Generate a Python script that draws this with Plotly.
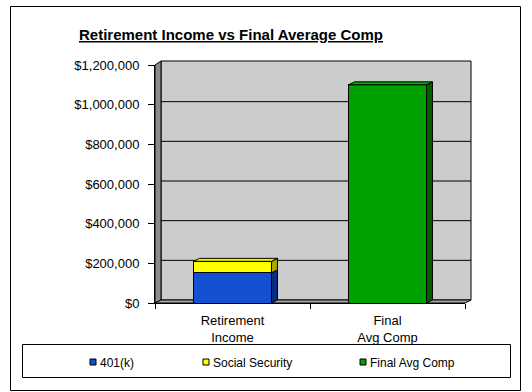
import plotly.graph_objects as go

categories = ["Retirement<br>Income", "Final<br>Avg Comp"]
k401 = [152000, 0]
social_security = [58000, 0]
final_avg_comp = [0, 1100000]
y_ticks = [0, 200000, 400000, 600000, 800000, 1000000, 1200000]
y_tick_text = ["$0", "$200,000", "$400,000", "$600,000", "$800,000", "$1,000,000", "$1,200,000"]

W, H = 532, 392
L, R, T, B = 155, 67, 65, 89
PW, PH = W - L - R, H - T - B
YMAX = 1200000
BAR_W = 0.503
DX, DY = 6, 3  # 3D depth offsets in px
FONT = "Liberation Sans, Arial"

def px(x):
    return (x - L) / PW

def py(y):
    return (H - B - y) / PH

dx = DX / (PW / 2.0)      # data units along categorical x (range -0.5..1.5)
dy = DY * YMAX / PH       # data units along y

colors = {"401(k)": ("#1450D2", "#0A2C80", "#2A62E0"),
          "Social Security": ("#FFFF00", "#A8A800", "#F0F000"),
          "Final Avg Comp": ("#00A000", "#006000", "#00B000")}

fig = go.Figure()
series = [("401(k)", k401), ("Social Security", social_security), ("Final Avg Comp", final_avg_comp)]
for name, vals in series:
    fig.add_trace(go.Bar(x=categories, y=vals, name=name, width=BAR_W,
                         marker=dict(color=colors[name][0], line=dict(color="black", width=1)),
                         showlegend=False, hovertemplate=name + ": %{y:$,}<extra></extra>"))

shapes = []
# back wall
shapes.append(dict(type="rect", xref="paper", yref="paper",
                   x0=px(L + DX), x1=px(L + PW + DX), y0=py(H - B - DY), y1=py(T - DY - 1),
                   line=dict(color="black", width=1), fillcolor="#CCCCCC", layer="below"))
# gridlines on the back wall
for v in y_ticks[1:-1]:
    shapes.append(dict(type="line", xref="paper", yref="y",
                       x0=px(L + DX), x1=px(L + PW + DX), y0=v + dy, y1=v + dy,
                       line=dict(color="black", width=1), layer="between"))
# left wall
shapes.append(dict(type="path", xref="paper", yref="paper",
                   path=(f"M{px(L)},{py(H-B)} L{px(L)},{py(T)} L{px(L+DX)},{py(T-DY-1)} "
                         f"L{px(L+DX)},{py(H-B-DY)} Z"),
                   fillcolor="#8C8C8C", line=dict(color="black", width=1), layer="between"))
# floor
shapes.append(dict(type="path", xref="paper", yref="paper",
                   path=(f"M{px(L)},{py(H-B)} L{px(L+PW)},{py(H-B)} L{px(L+PW+DX)},{py(H-B-DY)} "
                         f"L{px(L+DX)},{py(H-B-DY)} Z"),
                   fillcolor="#A8A8A8", line=dict(color="black", width=1), layer="between"))

# 3D faces of bars from data
for i in range(len(categories)):
    base = 0
    stack = [(n, v[i]) for n, v in series if v[i] > 0]
    for j, (name, v) in enumerate(stack):
        top = base + v
        x1 = i + BAR_W / 2
        x0 = i - BAR_W / 2
        shapes.append(dict(type="path", xref="x", yref="y",
                           path=f"M{x1},{base} L{x1+dx},{base+dy} L{x1+dx},{top+dy} L{x1},{top} Z",
                           fillcolor=colors[name][1], line=dict(color="black", width=1), layer="above"))
        if j == len(stack) - 1:
            shapes.append(dict(type="path", xref="x", yref="y",
                               path=f"M{x0},{top} L{x0+dx},{top+dy} L{x1+dx},{top+dy} L{x1},{top} Z",
                               fillcolor=colors[name][2], line=dict(color="black", width=1), layer="above"))
        base = top

# outer border and legend box
shapes.append(dict(type="rect", xref="paper", yref="paper",
                   x0=px(10.5), x1=px(520.5), y0=py(390.5), y1=py(6.5),
                   line=dict(color="black", width=1), fillcolor="rgba(0,0,0,0)"))
shapes.append(dict(type="rect", xref="paper", yref="paper",
                   x0=px(22.5), x1=px(510.5), y0=py(377.5), y1=py(344.5),
                   line=dict(color="black", width=1), fillcolor="rgba(0,0,0,0)"))

annotations = [dict(text="<b><u>Retirement Income vs Final Average Comp</u></b>",
                    xref="paper", yref="paper", x=px(231), y=py(34),
                    xanchor="center", yanchor="middle", showarrow=False,
                    font=dict(size=15, color="black", family=FONT))]

# legend (keys and labels)
legend_text_x = [98, 211, 368]
LEG_Y = 362
for (name, _), tx in zip(series, legend_text_x):
    shapes.append(dict(type="rect", xref="paper", yref="paper",
                       x0=px(tx - 8), x1=px(tx - 2), y0=py(LEG_Y + 3), y1=py(LEG_Y - 3),
                       fillcolor=colors[name][0], line=dict(color="black", width=1)))
    annotations.append(dict(text=name, xref="paper", yref="paper", x=px(tx), y=py(LEG_Y + 1),
                            xanchor="left", yanchor="middle", showarrow=False,
                            font=dict(size=12, color="black", family=FONT)))

fig.update_layout(
    width=W, height=H, margin=dict(l=L, r=R, t=T, b=B),
    paper_bgcolor="white", plot_bgcolor="rgba(0,0,0,0)",
    barmode="stack", bargap=0.497, showlegend=False,
    font=dict(family=FONT, size=13, color="black"),
    shapes=shapes, annotations=annotations,
    xaxis=dict(type="category", range=[-0.5, 1.5], showline=True, linecolor="black",
               ticks="outside", ticklen=5, tickcolor="black", tickson="boundaries",
               showgrid=False, tickfont=dict(size=13), ticklabelstandoff=5),
    yaxis=dict(range=[0, YMAX], tickvals=y_ticks, ticktext=y_tick_text,
               showline=True, linecolor="black", ticks="outside", ticklen=6, tickcolor="black",
               showgrid=False, zeroline=False,
               tickfont=dict(size=13), ticklabelstandoff=6),
)

fig.write_html("out.html")
